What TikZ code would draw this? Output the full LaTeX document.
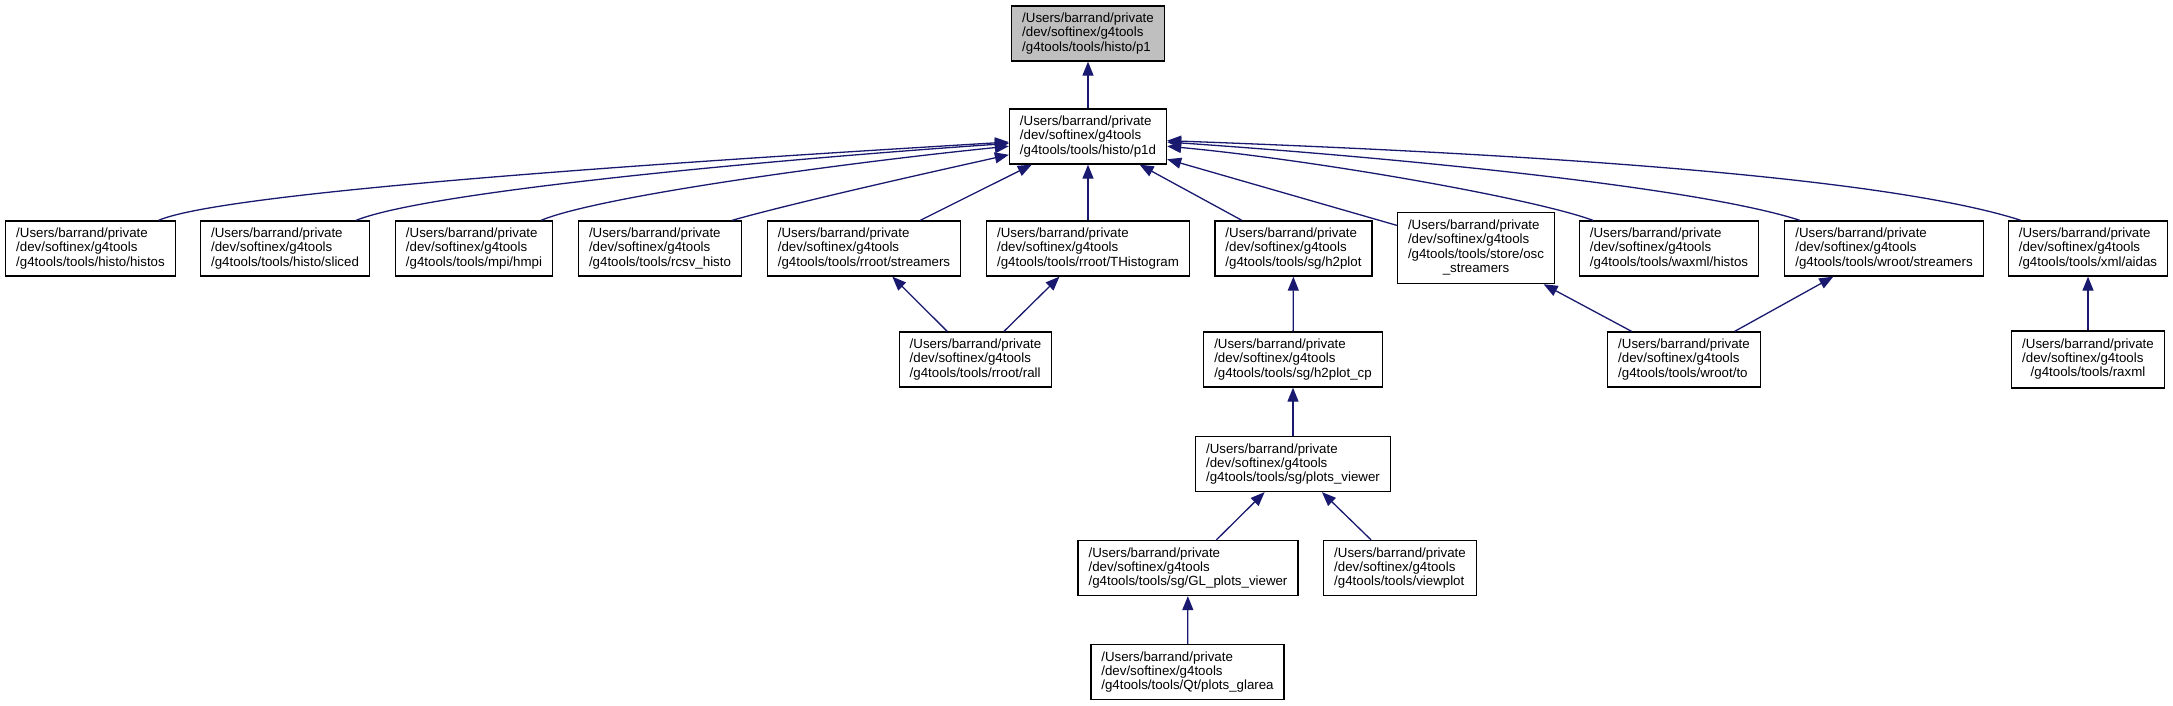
\documentclass[tikz,border=0pt]{standalone}
\usepackage{fontspec}
\setmainfont{Liberation Sans}
\usepackage{tikz}
\usetikzlibrary{arrows.meta}
\definecolor{edgeblue}{HTML}{191970}
\definecolor{rootgray}{HTML}{BFBFBF}

\begin{document}
\begin{tikzpicture}[
    x=1pt, y=-1pt,
    file/.style={draw, line width=1.3pt, align=left, inner xsep=10.5pt, inner ysep=7pt, minimum height=55pt, font=\fontsize{13.3}{14.3}\selectfont},
    root/.style={file, fill=rootgray},
    dep/.style={{Triangle[length=14pt,width=11pt]}-, draw=edgeblue, line width=1.3pt}
]
\useasboundingbox (0,0) rectangle (2173,705);

% Top: the header itself and p1d
\node[root] (p1) at (1088,33.5) {/Users/barrand/private\\/dev/softinex/g4tools\\/g4tools/tools/histo/p1};
\node[file] (p1d) at (1088,136.5) {/Users/barrand/private\\/dev/softinex/g4tools\\/g4tools/tools/histo/p1d};

% Row of direct includers of p1d
\node[file] (histos) at (90.5,248.5) {/Users/barrand/private\\/dev/softinex/g4tools\\/g4tools/tools/histo/histos};
\node[file] (sliced) at (285,248.5) {/Users/barrand/private\\/dev/softinex/g4tools\\/g4tools/tools/histo/sliced};
\node[file] (hmpi) at (474,248.5) {/Users/barrand/private\\/dev/softinex/g4tools\\/g4tools/tools/mpi/hmpi};
\node[file] (rcsv) at (660,248.5) {/Users/barrand/private\\/dev/softinex/g4tools\\/g4tools/tools/rcsv\_histo};
\node[file] (rstreamers) at (864,248.5) {/Users/barrand/private\\/dev/softinex/g4tools\\/g4tools/tools/rroot/streamers};
\node[file] (thist) at (1088,248.5) {/Users/barrand/private\\/dev/softinex/g4tools\\/g4tools/tools/rroot/THistogram};
\node[file] (h2plot) at (1293.5,248.5) {/Users/barrand/private\\/dev/softinex/g4tools\\/g4tools/tools/sg/h2plot};
\node[file] (osc) at (1476,248) {\begin{tabular}{@{}l@{}}/Users/barrand/private\\/dev/softinex/g4tools\\/g4tools/tools/store/osc\\\multicolumn{1}{@{}c@{}}{\_streamers}\end{tabular}};
\node[file] (waxml) at (1669,248.5) {/Users/barrand/private\\/dev/softinex/g4tools\\/g4tools/tools/waxml/histos};
\node[file] (wstreamers) at (1884,248.5) {/Users/barrand/private\\/dev/softinex/g4tools\\/g4tools/tools/wroot/streamers};
\node[file] (aidas) at (2088,248.5) {/Users/barrand/private\\/dev/softinex/g4tools\\/g4tools/tools/xml/aidas};

% Third row
\node[file] (rall) at (975.5,359.5) {/Users/barrand/private\\/dev/softinex/g4tools\\/g4tools/tools/rroot/rall};
\node[file] (h2plotcp) at (1293,359.5) {/Users/barrand/private\\/dev/softinex/g4tools\\/g4tools/tools/sg/h2plot\_cp};
\node[file] (wto) at (1684,359.5) {/Users/barrand/private\\/dev/softinex/g4tools\\/g4tools/tools/wroot/to};
\node[file] (raxml) at (2088,359.5) {\begin{tabular}{@{}l@{}}/Users/barrand/private\\/dev/softinex/g4tools\\\multicolumn{1}{@{}c@{}}{/g4tools/tools/raxml}\end{tabular}};

% Viewer chain
\node[file] (plotsviewer) at (1293,464) {/Users/barrand/private\\/dev/softinex/g4tools\\/g4tools/tools/sg/plots\_viewer};
\node[file] (glplots) at (1188,568) {/Users/barrand/private\\/dev/softinex/g4tools\\/g4tools/tools/sg/GL\_plots\_viewer};
\node[file] (viewplot) at (1400,568) {/Users/barrand/private\\/dev/softinex/g4tools\\/g4tools/tools/viewplot};
\node[file] (glarea) at (1187.5,672) {/Users/barrand/private\\/dev/softinex/g4tools\\/g4tools/tools/Qt/plots\_glarea};

% Straight dependencies
\draw[dep] (p1) -- (p1d);
\draw[dep] (p1d) -- (rstreamers);
\draw[dep] (p1d) -- (thist);
\draw[dep] (p1d) -- (h2plot);
\draw[dep] (p1d) -- (osc);
\draw[dep] (rstreamers) -- (rall);
\draw[dep] (thist) -- (rall);
\draw[dep] (h2plot) -- (h2plotcp);
\draw[dep] (osc) -- (wto);
\draw[dep] (wstreamers) -- (wto);
\draw[dep] (aidas) -- (raxml);
\draw[dep] (h2plotcp) -- (plotsviewer);
\draw[dep] (plotsviewer) -- (glplots);
\draw[dep] (plotsviewer) -- (viewplot);
\draw[dep] (glplots) -- (glarea);

% Curved dependencies into p1d
\draw[dep] (p1d.184) .. controls +(-300,18) and +(70,-30) .. ([xshift=68pt]histos.north);
\draw[dep] (p1d.185) .. controls +(-220,15) and +(75,-30) .. ([xshift=71pt]sliced.north);
\draw[dep] (p1d.187) .. controls +(-150,15) and +(60,-25) .. ([xshift=67pt]hmpi.north);
\draw[dep] (p1d.193) .. controls +(-90,20) and +(60,-17) .. ([xshift=72pt]rcsv.north);
\draw[dep] (p1d.353) .. controls +(150,14) and +(-60,-22) .. ([xshift=-76pt]waxml.north);
\draw[dep] (p1d.356) .. controls +(220,15) and +(-105,-34) .. ([xshift=-84pt]wstreamers.north);
\draw[dep] (p1d.357) .. controls +(330,12) and +(-143,-46) .. ([xshift=-67pt]aidas.north);

\end{tikzpicture}
\end{document}
